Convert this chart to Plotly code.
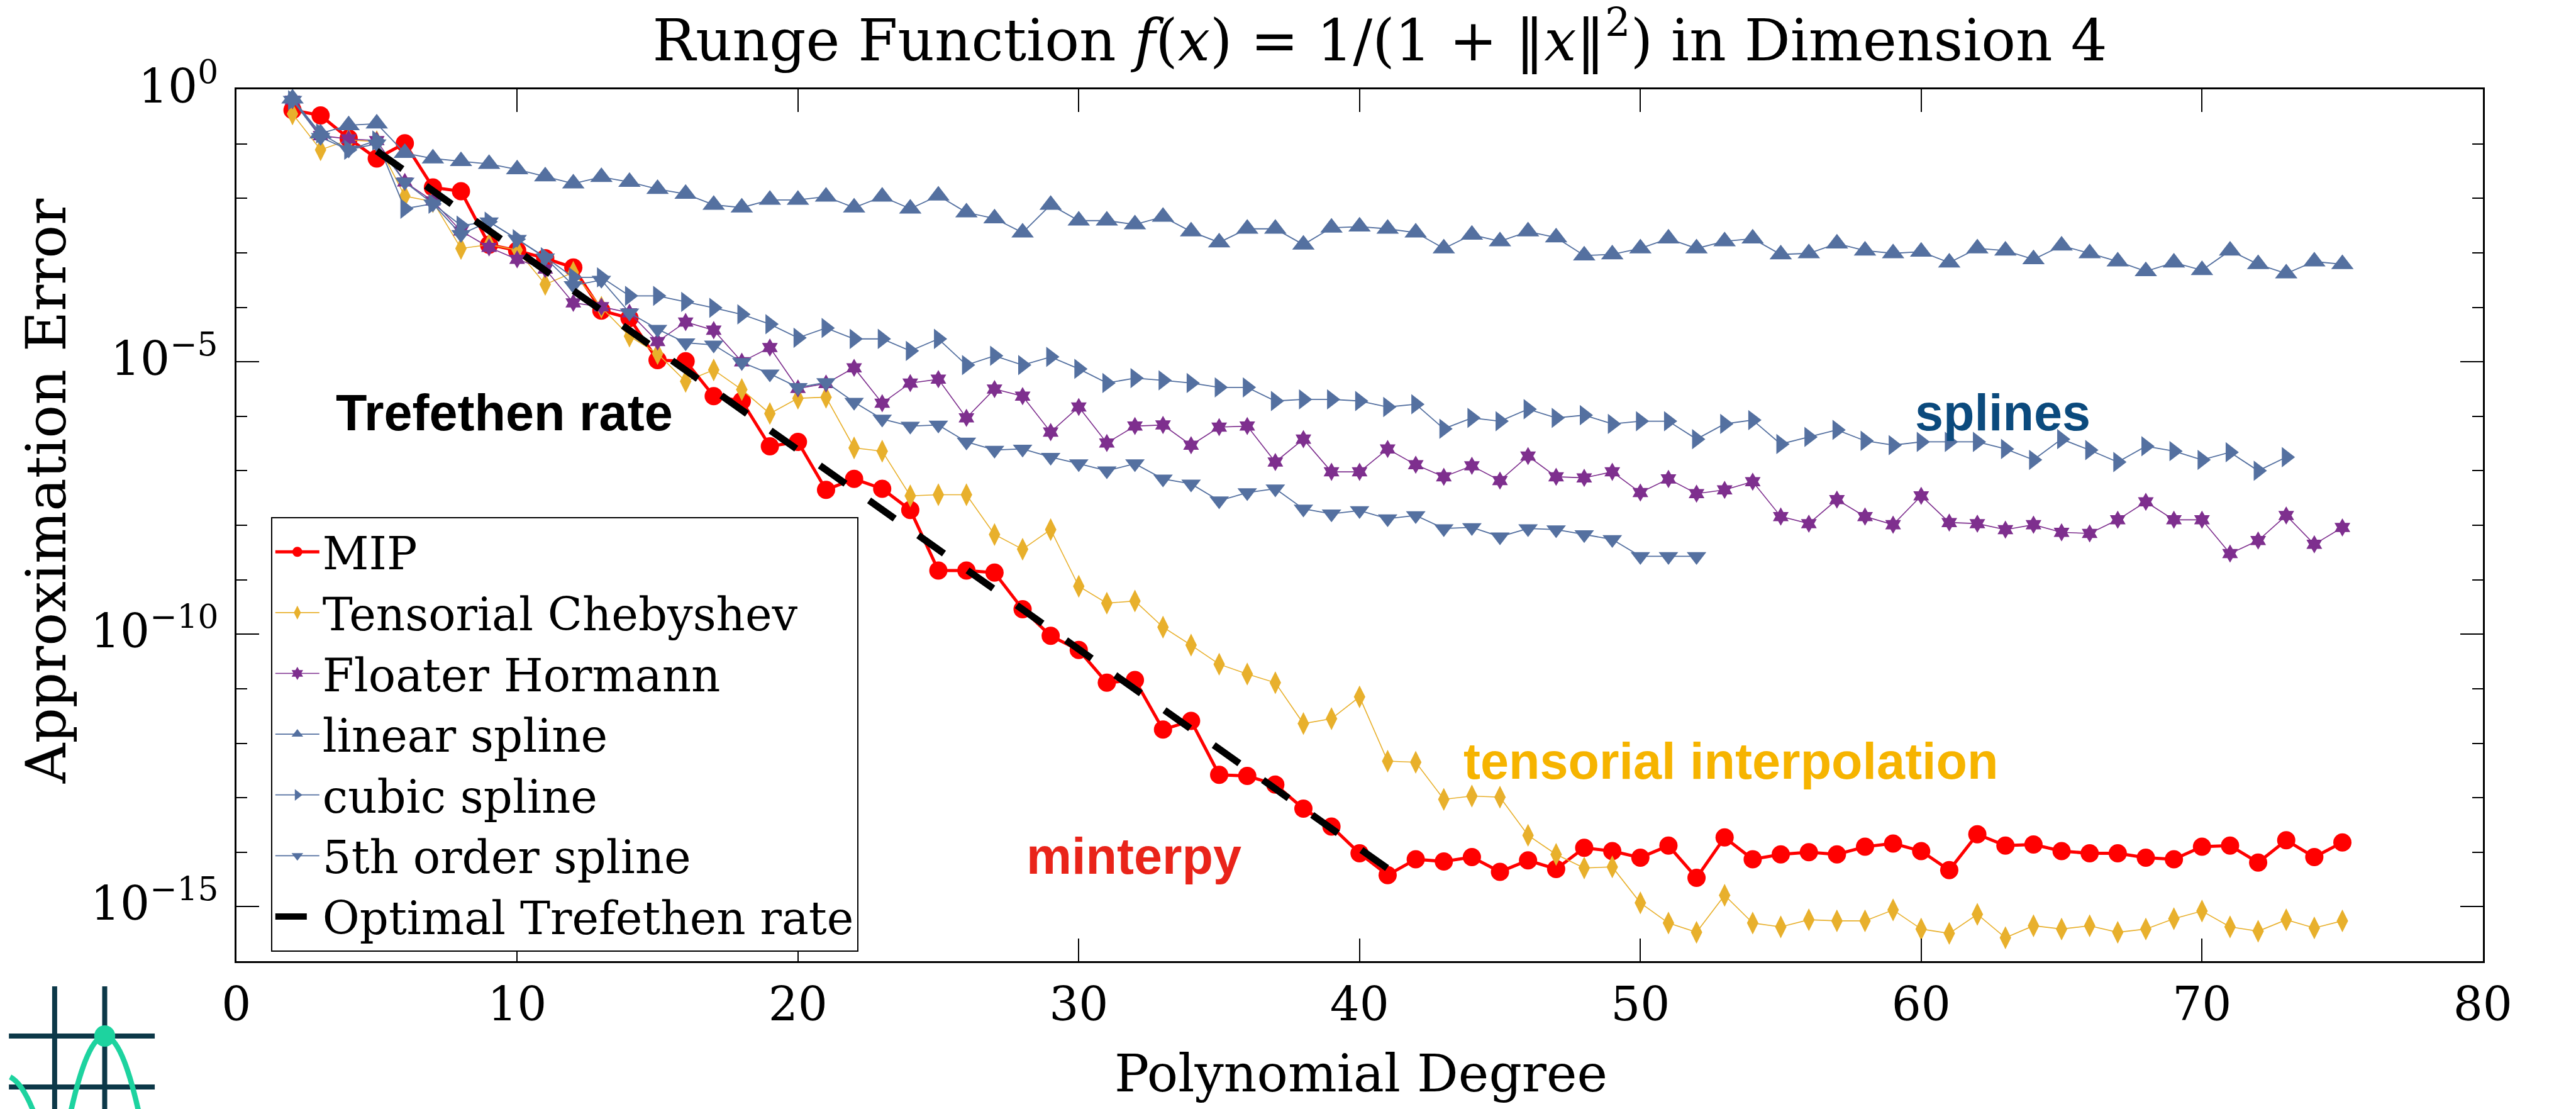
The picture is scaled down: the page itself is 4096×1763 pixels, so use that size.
import numpy as np
import plotly.graph_objects as go

# ---------------------------------------------------------------------------
# Approximation error (log10) versus polynomial degree, Runge function in 4D
# ---------------------------------------------------------------------------
degrees = list(range(2, 76))

mip_log10 = [
    -0.38, -0.48, -0.90, -1.27, -0.99, -1.80, -1.87, -2.85, -2.96, -3.10,
    -3.27, -4.06, -4.20, -4.97, -4.99, -5.63, -5.72, -6.55, -6.47, -7.35,
    -7.15, -7.33, -7.72, -8.83, -8.83, -8.87, -9.54, -10.03, -10.29, -10.89,
    -10.84, -11.75, -11.59, -12.58, -12.60, -12.76, -13.20, -13.53, -14.02, -14.42,
    -14.13, -14.17, -14.09, -14.36, -14.15, -14.31, -13.92, -13.98, -14.10, -13.88,
    -14.47, -13.73, -14.13, -14.04, -14.00, -14.04, -13.90, -13.84, -13.98, -14.33,
    -13.67, -13.88, -13.86, -13.98, -14.02, -14.02, -14.10, -14.13, -13.90, -13.88,
    -14.19, -13.78, -14.09, -13.82,
]

chebyshev_log10 = [
    -0.45, -1.11, -0.93, -0.96, -1.96, -2.06, -2.92, -2.85, -2.95, -3.58,
    -3.36, -4.00, -4.53, -4.85, -5.36, -5.15, -5.51, -5.95, -5.67, -5.65,
    -6.58, -6.64, -7.46, -7.44, -7.44, -8.17, -8.44, -8.08, -9.12, -9.43,
    -9.39, -9.87, -10.20, -10.55, -10.73, -10.89, -11.64, -11.55, -11.15, -12.33,
    -12.35, -13.03, -12.97, -12.99, -13.69, -14.04, -14.29, -14.27, -14.93, -15.30,
    -15.47, -14.79, -15.30, -15.37, -15.24, -15.26, -15.26, -15.06, -15.41, -15.49,
    -15.14, -15.57, -15.35, -15.41, -15.35, -15.47, -15.41, -15.22, -15.08, -15.37,
    -15.45, -15.24, -15.39, -15.26,
]

floater_log10 = [
    -0.20, -0.85, -0.91, -0.94, -1.70, -2.05, -2.60, -2.90, -3.12, -3.30,
    -3.92, -3.99, -4.10, -4.63, -4.27, -4.42, -5.00, -4.74, -5.49, -5.40,
    -5.11, -5.76, -5.39, -5.32, -6.03, -5.50, -5.63, -6.29, -5.83, -6.49,
    -6.18, -6.16, -6.53, -6.20, -6.18, -6.84, -6.42, -7.02, -7.02, -6.60,
    -6.89, -7.11, -6.91, -7.18, -6.73, -7.11, -7.13, -7.02, -7.40, -7.15,
    -7.42, -7.35, -7.20, -7.84, -7.97, -7.53, -7.84, -7.99, -7.46, -7.95,
    -7.97, -8.08, -7.99, -8.13, -8.15, -7.90, -7.57, -7.90, -7.90, -8.52,
    -8.28, -7.82, -8.35, -8.04,
]

linear_log10 = [
    -0.17, -0.81, -0.66, -0.63, -1.17, -1.27, -1.32, -1.37, -1.47, -1.60,
    -1.73, -1.61, -1.70, -1.83, -1.92, -2.12, -2.17, -2.03, -2.03, -1.97,
    -2.17, -1.97, -2.19, -1.95, -2.26, -2.37, -2.63, -2.12, -2.41, -2.41,
    -2.48, -2.34, -2.61, -2.81, -2.56, -2.56, -2.85, -2.54, -2.52, -2.56,
    -2.63, -2.92, -2.67, -2.79, -2.61, -2.72, -3.05, -3.03, -2.92, -2.74,
    -2.92, -2.79, -2.74, -3.03, -3.01, -2.83, -2.96, -3.01, -2.98, -3.18,
    -2.92, -2.96, -3.12, -2.87, -3.01, -3.16, -3.34, -3.18, -3.32, -2.96,
    -3.21, -3.38, -3.16, -3.21,
]

cubic_degrees = list(range(2, 74))
cubic_log10 = [
    -0.20, -0.81, -1.11, -0.94, -2.19, -2.10, -2.50, -2.43, -2.75, -3.08,
    -3.45, -3.45, -3.79, -3.79, -3.90, -4.01, -4.13, -4.31, -4.56, -4.38,
    -4.58, -4.58, -4.80, -4.58, -5.06, -4.89, -5.06, -4.91, -5.13, -5.39,
    -5.30, -5.34, -5.39, -5.47, -5.47, -5.72, -5.69, -5.69, -5.72, -5.83,
    -5.78, -6.23, -6.03, -6.09, -5.87, -6.03, -5.98, -6.14, -6.09, -6.09,
    -6.42, -6.14, -6.07, -6.51, -6.38, -6.25, -6.45, -6.53, -6.47, -6.47,
    -6.47, -6.60, -6.80, -6.42, -6.62, -6.84, -6.55, -6.64, -6.80, -6.66,
    -7.00, -6.75,
]

quintic_degrees = list(range(2, 53))
quintic_log10 = [
    -0.20, -0.88, -1.11, -1.00, -1.70, -2.10, -2.66, -2.43, -2.75, -3.09,
    -3.60, -3.50, -4.10, -4.40, -4.65, -4.69, -5.01, -5.22, -5.47, -5.38,
    -5.74, -6.05, -6.18, -6.16, -6.47, -6.62, -6.60, -6.75, -6.87, -7.00,
    -6.87, -7.15, -7.24, -7.55, -7.40, -7.33, -7.70, -7.79, -7.73, -7.88,
    -7.82, -8.06, -8.04, -8.21, -8.06, -8.08, -8.17, -8.26, -8.57, -8.57,
    -8.57,
]

trefethen_degrees = [5, 41]
trefethen_log10 = [-1.13, -14.3]

y_tick_exponents = [0, -5, -10, -15]
y_tick_text = ["10<sup>0</sup>", "10<sup>\u22125</sup>",
               "10<sup>\u221210</sup>", "10<sup>\u221215</sup>"]
y_minor_exponents = [-1, -2, -3, -4, -6, -7, -8, -9, -11, -12, -13, -14]
x_tick_vals = [0, 10, 20, 30, 40, 50, 60, 70, 80]

# ---------------------------------------------------------------------------
W, H = 4096, 1763
SERIF = "DejaVu Serif"
SANS = "Liberation Sans"
SPLINE_BLUE = "#5470a0"


def px(x):
    return x / W


def py(y):
    return 1 - y / H


def err(vals):
    return 10.0 ** np.asarray(vals)


series = [
    dict(name="MIP", x=degrees, y=mip_log10, color="#ff0000", lw=5,
         symbol="circle", size=29),
    dict(name="Tensorial Chebyshev", x=degrees, y=chebyshev_log10,
         color="#e8b02c", lw=1.6, symbol="diamond-tall", size=26),
    dict(name="Floater Hormann", x=degrees, y=floater_log10, color="#7e2f8e",
         lw=1.6, symbol="hexagram", size=22),
    dict(name="linear spline", x=degrees, y=linear_log10, color=SPLINE_BLUE,
         lw=1.8, symbol="triangle-up", size=31),
    dict(name="cubic spline", x=cubic_degrees, y=cubic_log10, color=SPLINE_BLUE,
         lw=1.8, symbol="triangle-right", size=28),
    dict(name="5th order spline", x=quintic_degrees, y=quintic_log10,
         color=SPLINE_BLUE, lw=1.8, symbol="triangle-down", size=27),
]

fig = go.Figure()
for s in series:
    fig.add_trace(go.Scatter(
        x=s["x"], y=err(s["y"]), name=s["name"], mode="lines+markers",
        line=dict(color=s["color"], width=s["lw"]),
        marker=dict(symbol=s["symbol"], size=s["size"], color=s["color"],
                    line=dict(width=0)),
    ))

fig.add_trace(go.Scatter(
    x=trefethen_degrees, y=err(trefethen_log10), name="Optimal Trefethen rate",
    mode="lines", line=dict(color="black", width=11, dash="50px,46px"),
))

# plot area in pixels: left 358, right 3993, top 142, bottom 1528
axis_common = dict(
    showline=True, linecolor="black", linewidth=2.5, mirror="allticks",
    ticks="inside", ticklen=36, tickwidth=2, tickcolor="black",
    showgrid=False, zeroline=False,
    tickfont=dict(family=SERIF, size=74, color="black"),
)

fig.update_layout(
    width=W, height=H,
    margin=dict(l=0, r=0, t=0, b=0),
    paper_bgcolor="white", plot_bgcolor="white",
    font=dict(family=SERIF, color="black"),
    showlegend=True,
    title=dict(
        text=("Runge Function <i>f</i>(<i>x</i>) = 1/(1 + \u2016<i>x</i>\u2016"
              "<sup>2</sup>) in Dimension 4"),
        x=px(2194), xanchor="center", y=py(64), yanchor="middle",
        yref="container", font=dict(family=SERIF, size=91, color="black"),
    ),
    xaxis=dict(
        domain=[px(358), px(3993)], range=[0, 80],
        tickmode="array", tickvals=x_tick_vals,
        ticklabelstandoff=2,
        **axis_common,
    ),
    yaxis=dict(
        domain=[py(1528), py(142)], type="log", range=[-16, 0],
        tickmode="array", tickvals=err(y_tick_exponents),
        showticklabels=False,
        minor=dict(
            tickmode="array", tickvals=err(y_minor_exponents),
            ticks="inside", ticklen=17, tickwidth=2, tickcolor="black",
            showgrid=False,
        ),
        **axis_common,
    ),
    legend=dict(
        x=px(414), y=py(822), xanchor="left", yanchor="top",
        bgcolor="white", bordercolor="black", borderwidth=2,
        font=dict(family=SERIF, size=72, color="black"),
        itemwidth=70, tracegroupgap=0,
    ),
)

# y tick labels, placed on the log axis at each labelled decade
for e, t in zip(y_tick_exponents, y_tick_text):
    fig.add_annotation(xref="paper", yref="y", x=px(331), y=e, text=t,
                       showarrow=False, xanchor="right", yanchor="middle",
                       yshift=10,
                       font=dict(family=SERIF, size=74, color="black"))

annotations = [
    # axis titles
    dict(text="Polynomial Degree", x=px(2178), y=py(1706), textangle=0,
         font=dict(family=SERIF, size=82, color="black")),
    dict(text="Approximation Error", x=px(50), y=py(781), textangle=-90,
         font=dict(family=SERIF, size=88, color="black")),
    # method labels
    dict(text="<b>Trefethen rate</b>", x=px(792), y=py(656),
         font=dict(family=SANS, size=81, color="#000000")),
    dict(text="<b>splines</b>", x=px(3216), y=py(656),
         font=dict(family=SANS, size=81, color="#0b4a7d")),
    dict(text="<b>tensorial interpolation</b>", x=px(2777), y=py(1210),
         font=dict(family=SANS, size=81, color="#f6b400")),
    dict(text="<b>minterpy</b>", x=px(1810), y=py(1361),
         font=dict(family=SANS, size=81, color="#e9241a")),
]
for a in annotations:
    fig.add_annotation(xref="paper", yref="paper", showarrow=False,
                       xanchor="center", yanchor="middle", **a)

# minterpy logo in the lower-left corner
DARK = "#0c3848"
GREEN = "#1dd39f"
logo_shapes = [
    dict(type="line", x0=px(64), x1=px(64), y0=py(1568), y1=py(1775),
         line=dict(color=DARK, width=8)),
    dict(type="line", x0=px(145), x1=px(145), y0=py(1568), y1=py(1775),
         line=dict(color=DARK, width=8)),
    dict(type="line", x0=px(-10), x1=px(226), y0=py(1647), y1=py(1647),
         line=dict(color=DARK, width=8)),
    dict(type="line", x0=px(-10), x1=px(226), y0=py(1728), y1=py(1728),
         line=dict(color=DARK, width=8)),
    dict(type="path",
         path=(f"M{px(89)},{py(1772)} Q{px(145)},{py(1523)} {px(201)},{py(1772)}"),
         line=dict(color=GREEN, width=8.5)),
    dict(type="path",
         path=(f"M{px(-8)},{py(1712)} Q{px(12)},{py(1722)} {px(31)},{py(1770)}"),
         line=dict(color=GREEN, width=8.5)),
    dict(type="circle", x0=px(128), x1=px(162), y0=py(1664), y1=py(1630),
         fillcolor=GREEN, line=dict(color=GREEN, width=0)),
]
for s in logo_shapes:
    fig.add_shape(xref="paper", yref="paper", layer="above", **s)

fig.write_html("out.html")
